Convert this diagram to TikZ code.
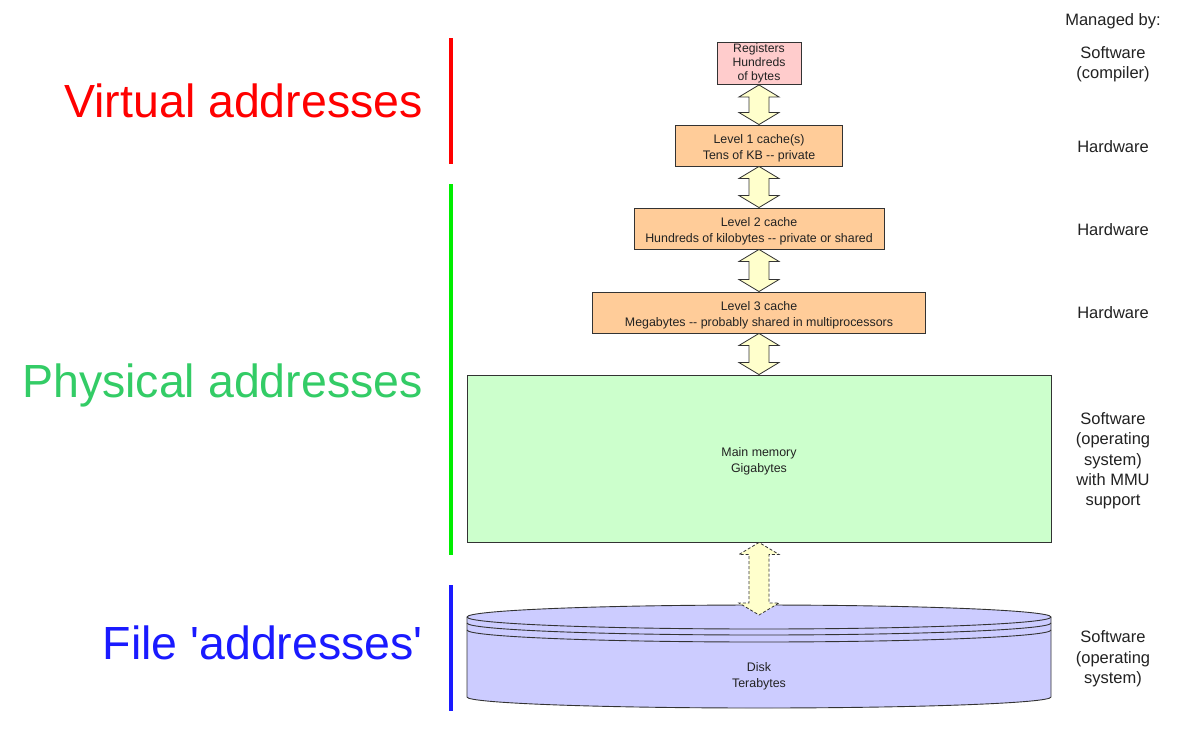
\documentclass[tikz,border=0pt]{standalone}
\usepackage{fontspec}
\setmainfont{Liberation Sans}
\usetikzlibrary{calc}
\definecolor{regfill}{HTML}{FFCCCC}
\definecolor{cachefill}{HTML}{FFCC99}
\definecolor{memfill}{HTML}{CCFFCC}
\definecolor{diskfill}{HTML}{CCCCFF}
\definecolor{arrfill}{HTML}{FFFFCC}
\definecolor{edge}{HTML}{333333}
\definecolor{txt}{HTML}{222222}
\definecolor{virtred}{HTML}{FF0000}
\definecolor{physgreen}{HTML}{33CC66}
\definecolor{barsgreen}{HTML}{00EE00}
\definecolor{fileblue}{HTML}{1A1AFF}
\newcommand\toppad{\rule{0pt}{14pt}}
\tikzset{
  memboxstyle/.style={draw=edge, line width=0.9pt, inner sep=0pt, align=center, text=txt,
    font=\fontsize{12.4}{16}\selectfont},
  xferarrow/.style={draw=edge, fill=arrfill, line width=0.8pt, line join=miter},
  mgr/.style={text=txt, align=center, font=\fontsize{16.5}{20.3}\selectfont},
  biglabel/.style={anchor=base east, inner sep=0pt, font=\fontsize{46.5}{50}\selectfont},
  bar/.style={line width=4pt}
}
\newcommand\xferarrowpath[3][]{%
  \draw[xferarrow,#1] let \p1=(#2), \p2=(#3) in
    (\x1,\y1) -- (\x1-20pt,\y1-12pt) -- (\x1-10pt,\y1-12pt) -- (\x1-10pt,\y2+12pt)
    -- (\x1-20pt,\y2+12pt) -- (\x1,\y2) -- (\x1+20pt,\y2+12pt) -- (\x1+10pt,\y2+12pt)
    -- (\x1+10pt,\y1-12pt) -- (\x1+20pt,\y1-12pt) -- cycle;}
\begin{document}
\begin{tikzpicture}[x=1pt,y=-1pt]
\useasboundingbox (0,0) rectangle (1198,739);
\fill[white] (0,0) rectangle (1198,739);

% memory hierarchy boxes
\node[memboxstyle, fill=regfill, minimum width=84, minimum height=42,
  font=\fontsize{12.2}{14}\selectfont] (reg) at (759,63.5) {Registers\\Hundreds\\of bytes};
\node[memboxstyle, fill=cachefill, minimum width=167, minimum height=41] (l1) at (759,145.5)
  {\toppad Level 1 cache(s)\\Tens of KB -{}- private};
\node[memboxstyle, fill=cachefill, minimum width=250, minimum height=41] (l2) at (759,228.5)
  {\toppad Level 2 cache\\Hundreds of kilobytes -{}- private or shared};
\node[memboxstyle, fill=cachefill, minimum width=333, minimum height=41] (l3) at (759,312.5)
  {\toppad Level 3 cache\\Megabytes -{}- probably shared in multiprocessors};
\node[memboxstyle, fill=memfill, minimum width=584, minimum height=167] (mem) at (759,458.5)
  {\toppad Main memory\\Gigabytes};

% disk (cylinder)
\coordinate (dtl) at (467,617);
\coordinate (dtr) at (1051,617);
\coordinate (dbl) at (467,697);
\coordinate (dbr) at (1051,697);
\filldraw[fill=diskfill, draw=edge, line width=0.9pt]
  (dtl) -- (dbl) arc[start angle=180, end angle=360, x radius=292pt, y radius=11pt]
  -- (dtr) arc[start angle=0, end angle=180, x radius=292pt, y radius=12pt] -- cycle;
\draw[edge, line width=0.9pt] (dtl) arc[start angle=180, end angle=360, x radius=292pt, y radius=12pt];
\draw[edge, line width=0.9pt] (467,623) arc[start angle=180, end angle=360, x radius=292pt, y radius=12pt];
\draw[edge, line width=0.9pt] (467,630) arc[start angle=180, end angle=360, x radius=292pt, y radius=12pt];
\node[text=txt, align=center, font=\fontsize{12.4}{16}\selectfont] (disk) at (759,676.5) {Disk\\Terabytes};
\coordinate (disktop) at (759,615);

% transfer arrows
\xferarrowpath{reg.south}{l1.north}
\xferarrowpath{l1.south}{l2.north}
\xferarrowpath{l2.south}{l3.north}
\xferarrowpath{l3.south}{mem.north}
\xferarrowpath[dashed, dash pattern=on 3pt off 2pt]{mem.south}{disktop}

% address-space bars
\coordinate (vt) at (451,38);  \coordinate (vb) at (451,164);
\coordinate (pt) at (451,184); \coordinate (pb) at (451,555);
\coordinate (ft) at (451,585); \coordinate (fb) at (451,711);
\draw[bar, virtred] (vt) -- (vb);
\draw[bar, barsgreen] (pt) -- (pb);
\draw[bar, fileblue] (ft) -- (fb);

% left labels
\node[biglabel, text=virtred] (lv) at (423,117) {Virtual addresses};
\node[biglabel, text=physgreen] (lp) at (423,397) {Physical addresses};
\node[biglabel, text=fileblue] (lf) at (423,659) {File \textquotesingle addresses\textquotesingle};

% managed by column
\node[mgr] (mh) at (1113,21) {Managed by:};
\node[mgr] (m1) at (1113,64.5) {Software\\(compiler)};
\node[mgr] (m2) at (1113,147) {Hardware};
\node[mgr] (m3) at (1113,230) {Hardware};
\node[mgr] (m4) at (1113,313) {Hardware};
\node[mgr] (m5) at (1113,461) {Software\\(operating\\system)\\with MMU\\support};
\node[mgr] (m6) at (1113,659) {Software\\(operating\\system)};
\end{tikzpicture}
\end{document}
